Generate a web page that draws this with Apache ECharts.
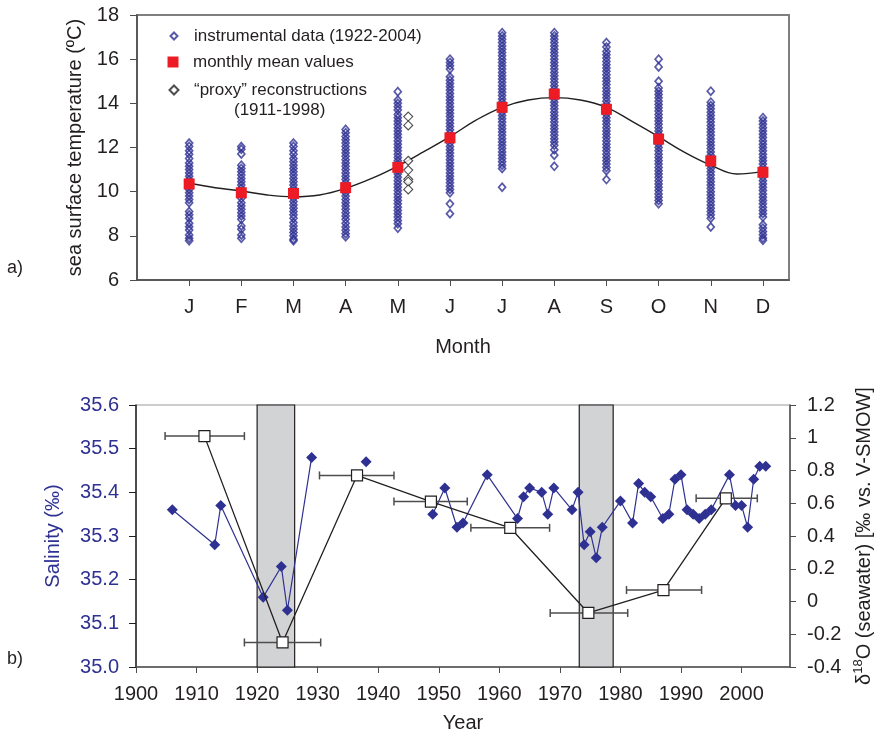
<!DOCTYPE html>
<html>
<head>
<meta charset="utf-8">
<script src="https://cdn.jsdelivr.net/npm/echarts@6/dist/echarts.min.js"></script>
<style>
html,body{margin:0;padding:0;background:#fff;}
#chart{width:875px;height:740px;}
</style>
</head>
<body>
<div id="chart"></div>
<script>
// ---------- Panel a) data ----------
const monthLabels = ['J','F','M','A','M','J','J','A','S','O','N','D'];
const instJan = [12.2, 12.05, 11.85, 11.7, 11.5, 11.3, 11.15, 11.0, 10.85, 10.7, 10.55, 10.4, 10.25, 10.1, 9.95, 9.8, 9.65, 9.5, 9.1, 8.95, 8.8, 8.57, 8.41, 8.26, 8.04, 7.89, 7.78];
const instFeb = [12.04, 11.92, 11.71, 11.2, 11.05, 10.9, 10.75, 10.6, 10.45, 10.3, 10.15, 10.0, 9.85, 9.7, 9.5, 9.35, 9.2, 9.05, 8.9, 8.75, 8.45, 8.3, 8.04, 7.89];
const instMar = [12.2, 12.05, 11.85, 11.7, 11.5, 11.35, 11.2, 11.05, 10.9, 10.75, 10.6, 10.45, 10.3, 10.15, 10.0, 9.85, 9.7, 9.55, 9.4, 9.25, 9.1, 8.95, 8.8, 8.6, 8.45, 8.3, 8.15, 8.0, 7.85, 7.78];
const instApr = [12.82, 12.67, 12.5, 12.35, 12.2, 12.05, 11.9, 11.75, 11.6, 11.45, 11.3, 11.15, 11.0, 10.85, 10.7, 10.55, 10.4, 10.25, 10.1, 9.95, 9.8, 9.65, 9.5, 9.35, 9.2, 9.05, 8.9, 8.75, 8.57, 8.4, 8.25, 8.1, 7.96];
const instMay = [14.53, 14.15, 14.0, 13.85, 13.7, 13.5, 13.35, 13.2, 13.05, 12.9, 12.75, 12.6, 12.45, 12.3, 12.15, 12.0, 11.85, 11.7, 11.55, 11.4, 11.25, 11.1, 10.95, 10.8, 10.65, 10.5, 10.35, 10.2, 10.05, 9.9, 9.75, 9.6, 9.45, 9.3, 9.15, 9.0, 8.85, 8.7, 8.55, 8.35];
const instJun = [16.0, 15.85, 15.7, 15.55, 15.2, 15.05, 14.9, 14.75, 14.6, 14.45, 14.3, 14.15, 14.0, 13.85, 13.7, 13.55, 13.4, 13.25, 13.1, 12.95, 12.8, 12.65, 12.5, 12.35, 12.2, 12.05, 11.9, 11.75, 11.6, 11.45, 11.3, 11.15, 11.0, 10.85, 10.7, 10.55, 10.4, 10.25, 10.1, 9.95, 9.45, 9.0];
const instJul = [17.2, 17.05, 16.9, 16.75, 16.6, 16.45, 16.3, 16.15, 16.0, 15.85, 15.7, 15.55, 15.4, 15.25, 15.1, 14.95, 14.8, 14.65, 14.5, 14.35, 14.2, 14.05, 13.9, 13.75, 13.6, 13.45, 13.3, 13.15, 13.0, 12.85, 12.7, 12.55, 12.4, 12.25, 12.1, 11.95, 11.8, 11.65, 11.5, 11.35, 11.2, 11.05, 10.2];
const instAug = [17.2, 17.05, 16.9, 16.75, 16.6, 16.45, 16.3, 16.15, 16.0, 15.85, 15.7, 15.55, 15.4, 15.25, 15.1, 14.95, 14.8, 14.65, 14.5, 14.35, 14.2, 14.05, 13.9, 13.75, 13.6, 13.45, 13.3, 13.15, 13.0, 12.85, 12.7, 12.55, 12.4, 12.25, 12.1, 11.9, 11.65, 11.15];
const instSep = [16.75, 16.55, 16.35, 16.2, 16.05, 15.9, 15.75, 15.6, 15.45, 15.3, 15.15, 15.0, 14.85, 14.7, 14.55, 14.4, 14.25, 14.1, 13.95, 13.8, 13.65, 13.5, 13.35, 13.2, 13.05, 12.9, 12.75, 12.6, 12.45, 12.3, 12.15, 12.0, 11.85, 11.7, 11.55, 11.4, 11.25, 11.1, 10.95, 10.55];
const instOct = [16.0, 15.65, 15.0, 14.7, 14.55, 14.4, 14.25, 14.1, 13.95, 13.8, 13.65, 13.5, 13.35, 13.2, 13.05, 12.9, 12.75, 12.6, 12.45, 12.3, 12.15, 12.0, 11.85, 11.7, 11.55, 11.4, 11.25, 11.1, 10.95, 10.8, 10.65, 10.5, 10.35, 10.2, 10.05, 9.9, 9.75, 9.6, 9.45];
const instNov = [14.55, 14.05, 13.9, 13.75, 13.6, 13.45, 13.3, 13.15, 13.0, 12.85, 12.7, 12.55, 12.4, 12.25, 12.1, 11.95, 11.8, 11.65, 11.5, 11.35, 11.2, 11.05, 10.9, 10.75, 10.6, 10.45, 10.3, 10.15, 10.0, 9.85, 9.7, 9.55, 9.4, 9.25, 9.1, 8.95, 8.8, 8.4];
const instDec = [13.35, 13.2, 13.05, 12.9, 12.75, 12.6, 12.45, 12.3, 12.15, 12.0, 11.85, 11.7, 11.55, 11.4, 11.25, 11.1, 10.95, 10.8, 10.65, 10.5, 10.35, 10.2, 10.05, 9.9, 9.75, 9.6, 9.45, 9.3, 9.15, 9.0, 8.85, 8.5, 8.35, 8.2, 8.05, 7.9, 7.8];
const instrumentalByMonth = [instJan, instFeb, instMar, instApr, instMay, instJun, instJul, instAug, instSep, instOct, instNov, instDec];
const monthlyMeans = [10.35, 9.95, 9.92, 10.18, 11.1, 12.44, 13.82, 14.42, 13.73, 12.38, 11.39, 10.88];
const curveMonths = [1, 1.5, 2, 2.5, 3, 3.5, 4, 4.5, 5, 5.5, 6, 6.5, 7, 7.5, 8, 8.5, 9, 9.5, 10, 10.5, 11, 11.5, 12];
const curveTemps  = [10.38, 10.18, 10.03, 9.85, 9.77, 9.85, 10.15, 10.6, 11.16, 11.81, 12.49, 13.24, 13.82, 14.15, 14.26, 14.15, 13.82, 13.17, 12.49, 11.78, 11.2, 10.8, 10.92];
const proxyMonth = 5.2;
const proxyTemps = [13.4, 13.0, 11.4, 10.98, 10.56, 10.45, 10.1];

// ---------- Panel b) data ----------
const salYears  = [1906, 1913, 1914, 1921, 1924, 1925, 1929, 1933, 1938, 1943, 1949, 1951, 1953, 1954, 1958, 1963, 1964, 1965, 1967, 1968, 1969, 1972, 1973, 1974, 1975, 1976, 1977, 1980, 1982, 1983, 1984, 1985, 1987, 1988, 1989, 1990, 1991, 1992, 1993, 1994, 1995, 1998, 1999, 2000, 2001, 2002, 2003, 2004];
const salValues = [35.36, 35.28, 35.37, 35.16, 35.23, 35.13, 35.48, null, 35.47, null, 35.35, 35.41, 35.32, 35.33, 35.44, 35.34, 35.39, 35.41, 35.40, 35.35, 35.41, 35.36, 35.40, 35.28, 35.31, 35.25, 35.32, 35.38, 35.33, 35.42, 35.40, 35.39, 35.34, 35.35, 35.43, 35.44, 35.36, 35.35, 35.34, 35.35, 35.36, 35.44, 35.37, 35.37, 35.32, 35.43, 35.46, 35.46];
const d18Years  = [1911.3, 1924.2, 1936.5, 1948.7, 1961.8, 1974.7, 1987.1, 1997.4];
const d18Values = [1.01, -0.25, 0.77, 0.61, 0.45, -0.07, 0.07, 0.63];
const d18ErrLow  = [1904.8, 1917.9, 1930.3, 1942.6, 1955.3, 1968.4, 1981.0, 1992.5];
const d18ErrHigh = [1917.9, 1930.5, 1942.6, 1954.7, 1968.3, 1981.2, 1993.4, 2002.6];
const shadedStart = [1920.0, 1973.2];
const shadedEnd   = [1926.2, 1978.8];
const yearTicks = [1900, 1910, 1920, 1930, 1940, 1950, 1960, 1970, 1980, 1990, 2000];

// ---------- build ----------
const FONT = "'Liberation Sans', Arial, Helvetica, sans-serif";
const DARK = '#231f20';
const BLUE = '#2e3192';
const RED = '#ed1c24';
const SAL_MIN = 35.0, SAL_MAX = 35.6;

const instData = [];
instrumentalByMonth.forEach((vals, i) => vals.forEach(v => instData.push([i + 1, v])));
const meanData = monthlyMeans.map((v, i) => [i + 1, v]);
const curveData = curveMonths.map((m, i) => [m, curveTemps[i]]);
const proxyData = proxyTemps.map(v => [proxyMonth, v]);
const salData = salYears.map((y, i) => [y, salValues[i] === null ? '-' : salValues[i]]);
const d18Data = d18Years.map((y, i) => [y, d18Values[i]]);
const errData = d18Years.map((y, i) => [y, d18Values[i], d18ErrLow[i], d18ErrHigh[i]]);
const shadeData = shadedStart.map((s, i) => [s, shadedEnd[i]]);

const chart = echarts.init(document.getElementById('chart'), null, {renderer: 'canvas'});

const axisLineDark = {show: true, onZero: false, lineStyle: {color: '#4d4d4d', width: 1.5}};
const labelStyle = {fontFamily: FONT, fontSize: 20, color: DARK};
const legendText = pad => ({fontFamily: FONT, fontSize: 17, color: DARK, lineHeight: 20, padding: [0, 0, 0, pad]});

const option = {
  animation: false,
  backgroundColor: '#fff',
  textStyle: {fontFamily: FONT},
  grid: [
    {left: 137, top: 15, width: 652, height: 265, show: true, borderColor: '#7f7f7f', borderWidth: 2,
     backgroundColor: 'transparent', containLabel: false, outerBoundsMode: 'none'},
    {left: 136, top: 405, width: 654, height: 262, show: true, borderColor: '#9a9a9a', borderWidth: 1,
     backgroundColor: 'transparent', containLabel: false, outerBoundsMode: 'none'}
  ],
  legend: [
    {left: 169.5, top: 26, orient: 'vertical', padding: 0, itemWidth: 7, itemHeight: 7, selectedMode: false,
     data: [{name: 'instrumental data (1922-2004)', icon: 'diamond'}], textStyle: legendText(11.5)},
    {left: 167.5, top: 52, orient: 'vertical', padding: 0, itemWidth: 11, itemHeight: 11, selectedMode: false,
     data: [{name: 'monthly mean values', icon: 'rect'}], textStyle: legendText(9.5)},
    {left: 168.5, top: 80, orient: 'vertical', padding: 0, itemWidth: 9, itemHeight: 9, selectedMode: false,
     data: [{name: '\u201cproxy\u201d reconstructions', icon: 'diamond'}], textStyle: legendText(10.5)}
  ],
  graphic: [
    {type: 'text', left: 234, top: 102, style: {text: '(1911-1998)', font: "17px 'Liberation Sans', Arial, sans-serif", fill: DARK}},
    {type: 'text', left: 7, top: 259, style: {text: 'a)', font: "18px 'Liberation Sans', Arial, sans-serif", fill: DARK}},
    {type: 'text', left: 7, top: 650, style: {text: 'b)', font: "18px 'Liberation Sans', Arial, sans-serif", fill: DARK}}
  ],
  xAxis: [
    {gridIndex: 0, type: 'value', min: 0, max: 12.5, interval: 1,
     name: 'Month', nameLocation: 'middle', nameGap: 57, nameTextStyle: {fontFamily: FONT, fontSize: 20, color: DARK},
     axisLine: axisLineDark,
     axisTick: {show: true, inside: false, length: 6, lineStyle: {color: '#4d4d4d', width: 1}, customValues: [1,2,3,4,5,6,7,8,9,10,11,12]},
     axisLabel: Object.assign({margin: 17, customValues: [1,2,3,4,5,6,7,8,9,10,11,12],
       formatter: v => monthLabels[Math.round(v) - 1] || ''}, labelStyle),
     splitLine: {show: false}},
    {gridIndex: 1, type: 'value', min: 1900, max: 2008, interval: 10,
     name: 'Year', nameLocation: 'middle', nameGap: 46, nameTextStyle: {fontFamily: FONT, fontSize: 20, color: DARK},
     axisLine: {show: true, onZero: false, lineStyle: {color: '#4d4d4d', width: 1.5}},
     axisTick: {show: true, length: 6, lineStyle: {color: '#4d4d4d', width: 1}, customValues: yearTicks},
     axisLabel: Object.assign({margin: 17, customValues: yearTicks, formatter: v => String(v)}, labelStyle),
     splitLine: {show: false}}
  ],
  yAxis: [
    {gridIndex: 0, type: 'value', min: 6, max: 18, interval: 2,
     name: 'sea surface temperature (\u00baC)', nameLocation: 'middle', nameGap: 46, nameRotate: 90,
     nameTextStyle: {fontFamily: FONT, fontSize: 20, color: DARK},
     axisLine: axisLineDark,
     axisTick: {show: true, length: 7, lineStyle: {color: '#4d4d4d', width: 1}},
     axisLabel: Object.assign({margin: 18}, labelStyle),
     splitLine: {show: false}},
    {gridIndex: 1, type: 'value', min: SAL_MIN, max: SAL_MAX, interval: 0.1, position: 'left',
     name: 'Salinity (\u2030)', nameLocation: 'middle', nameGap: 73, nameRotate: 90,
     nameTextStyle: {fontFamily: FONT, fontSize: 20, color: BLUE},
     axisLine: {show: true, onZero: false, lineStyle: {color: DARK, width: 1.5}},
     axisTick: {show: true, length: 7, lineStyle: {color: DARK, width: 1}},
     axisLabel: {margin: 17, fontFamily: FONT, fontSize: 20, color: BLUE, formatter: v => v.toFixed(1)},
     splitLine: {show: false}},
    {gridIndex: 1, type: 'value', min: -0.4, max: 1.2, interval: 0.2, position: 'right',
     name: '{a|\u03b4}{s|18}{a|O (seawater) [\u2030 vs. V-SMOW]}', nameLocation: 'middle', nameGap: 60, nameRotate: 90,
     nameTextStyle: {fontFamily: FONT, fontSize: 20, color: DARK,
       rich: {a: {fontFamily: FONT, fontSize: 20, color: DARK, lineHeight: 22, verticalAlign: 'bottom'},
              s: {fontFamily: FONT, fontSize: 13, color: DARK, lineHeight: 22, verticalAlign: 'top'}}},
     axisLine: {show: true, onZero: false, lineStyle: {color: '#4d4d4d', width: 1.5}},
     axisTick: {show: true, length: 6, lineStyle: {color: '#4d4d4d', width: 1}},
     axisLabel: Object.assign({margin: 17, formatter: v => String(Math.round(v * 10) / 10)}, labelStyle),
     splitLine: {show: false}}
  ],
  series: [
    {name: 'instrumental data (1922-2004)', type: 'scatter', xAxisIndex: 0, yAxisIndex: 0, z: 2,
     symbol: 'diamond', symbolSize: [7, 8], data: instData,
     itemStyle: {color: 'rgba(255,255,255,0)', borderColor: BLUE, borderWidth: 1.7}},
    {name: 'fit', type: 'line', xAxisIndex: 0, yAxisIndex: 0, z: 3, smooth: 0.4, showSymbol: false, symbol: 'none',
     data: curveData, lineStyle: {color: '#231f20', width: 1.4}},
    {name: 'monthly mean values', type: 'scatter', xAxisIndex: 0, yAxisIndex: 0, z: 4,
     symbol: 'rect', symbolSize: 11, data: meanData, itemStyle: {color: RED, opacity: 1}},
    {name: '\u201cproxy\u201d reconstructions', type: 'scatter', xAxisIndex: 0, yAxisIndex: 0, z: 4,
     symbol: 'diamond', symbolSize: 9, data: proxyData,
     itemStyle: {color: '#fff', borderColor: DARK, borderWidth: 1.1}},

    {name: 'shade', type: 'custom', xAxisIndex: 1, yAxisIndex: 1, z: 1, silent: true,
     data: shadeData, encode: {x: [0, 1]},
     renderItem: (params, api) => {
       const p0 = api.coord([api.value(0), SAL_MAX]);
       const p1 = api.coord([api.value(1), SAL_MIN]);
       return {type: 'rect', shape: {x: p0[0], y: p0[1], width: p1[0] - p0[0], height: p1[1] - p0[1]},
               style: {fill: '#d1d3d4', stroke: DARK, lineWidth: 1.2}};
     }},
    {name: 'salinity', type: 'line', xAxisIndex: 1, yAxisIndex: 1, z: 3,
     symbol: 'diamond', symbolSize: 11, showSymbol: true, connectNulls: false, data: salData,
     itemStyle: {color: BLUE}, lineStyle: {color: BLUE, width: 1.2}},
    {name: 'errbars', type: 'custom', xAxisIndex: 1, yAxisIndex: 2, z: 4, silent: true,
     data: errData, encode: {x: [0, 2, 3], y: 1},
     renderItem: (params, api) => {
       const y = api.value(1);
       const a = api.coord([api.value(2), y]);
       const b = api.coord([api.value(3), y]);
       const st = {stroke: '#4d4d4d', lineWidth: 1.5};
       return {type: 'group', children: [
         {type: 'line', shape: {x1: a[0], y1: a[1], x2: b[0], y2: b[1]}, style: st},
         {type: 'line', shape: {x1: a[0], y1: a[1] - 4, x2: a[0], y2: a[1] + 4}, style: st},
         {type: 'line', shape: {x1: b[0], y1: b[1] - 4, x2: b[0], y2: b[1] + 4}, style: st}
       ]};
     }},
    {name: 'd18O', type: 'line', xAxisIndex: 1, yAxisIndex: 2, z: 5,
     symbol: 'rect', symbolSize: 11, showSymbol: true, data: d18Data,
     itemStyle: {color: '#fff', borderColor: DARK, borderWidth: 1.2}, lineStyle: {color: DARK, width: 1.3}}
  ]
};
chart.setOption(option);
</script>
</body>
</html>
